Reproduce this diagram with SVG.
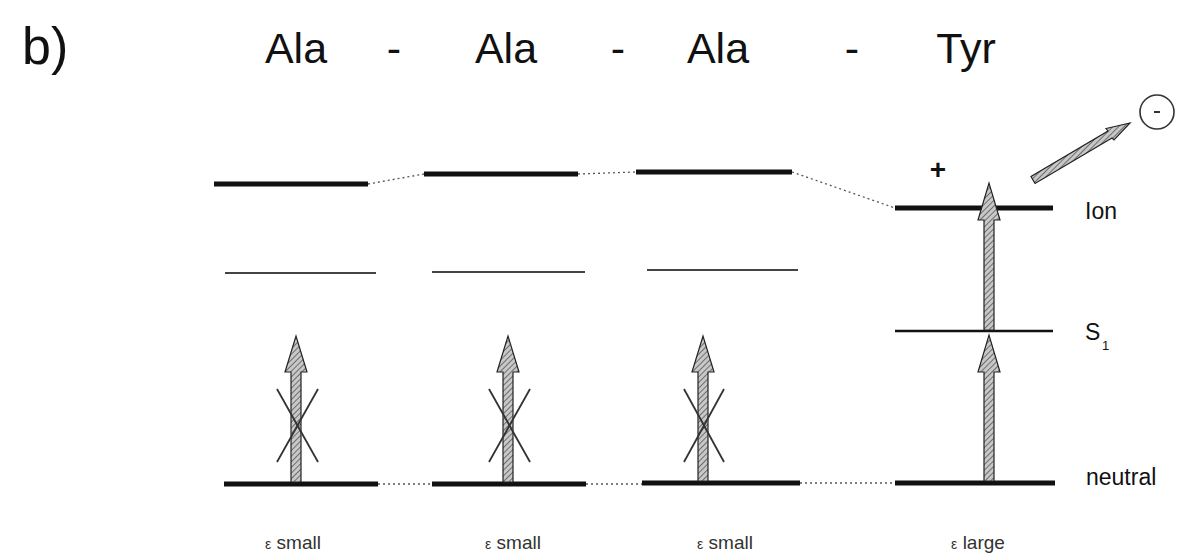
<svg xmlns="http://www.w3.org/2000/svg" width="1178" height="553" viewBox="0 0 1178 553">
<defs>
<pattern id="hatch" patternUnits="userSpaceOnUse" width="4" height="4" patternTransform="rotate(45)">
<rect width="4" height="4" fill="#c8c8c8"/>
<line x1="0" y1="0" x2="0" y2="4" stroke="#555" stroke-width="1.6"/>
</pattern>
</defs>
<style>
.t{font-family:"Liberation Sans",Arial,sans-serif;fill:#111}
.title{font-size:43px;text-anchor:middle}
.lab{font-size:23px}
.eps{font-size:19px;text-anchor:middle;fill:#333}
.thick{stroke:#111;stroke-width:5;stroke-linecap:butt}
.thin{stroke:#444;stroke-width:2}
.s1{stroke:#111;stroke-width:2.5}
.dot{stroke:#555;stroke-width:1.3;stroke-dasharray:2 3;fill:none}
.arrow{fill:url(#hatch);stroke:#222;stroke-width:1.2}
.cross{stroke:#333;stroke-width:1.8}
</style>
<rect width="1178" height="553" fill="#fff"/>
<g id="title">
<text class="t" x="22" y="64" font-size="52">b)</text>
<text class="t title" x="296" y="63">Ala</text>
<text class="t title" x="394" y="63">-</text>
<text class="t title" x="506" y="63">Ala</text>
<text class="t title" x="618" y="63">-</text>
<text class="t title" x="718" y="63">Ala</text>
<text class="t title" x="852" y="63">-</text>
<text class="t title" x="966" y="63">Tyr</text>
</g>
<g id="connectors">
<line class="dot" x1="368" y1="184" x2="424" y2="174"/>
<line class="dot" x1="578" y1="174" x2="636" y2="172"/>
<line class="dot" x1="792" y1="172" x2="895" y2="208"/>
<line class="dot" x1="378" y1="484" x2="432" y2="484"/>
<line class="dot" x1="586" y1="484" x2="642" y2="484"/>
<line class="dot" x1="800" y1="483" x2="895" y2="483"/>
</g>
<g id="ala1">
<line class="thick" x1="214" y1="184" x2="368" y2="184"/>
<line class="thin" x1="225" y1="273" x2="376" y2="273"/>
<line class="thick" x1="224" y1="484" x2="378" y2="484"/>
<path class="arrow" d="M291,482 V372 H285 L296,336 L307,372 H301 V482 Z"/>
<line class="cross" x1="277" y1="389" x2="318" y2="462"/>
<line class="cross" x1="318" y1="389" x2="277" y2="462"/>
<text class="t eps" x="293" y="549"><tspan font-size="14">ε</tspan> small</text>
</g>
<g id="ala2">
<line class="thick" x1="424" y1="174" x2="578" y2="174"/>
<line class="thin" x1="432" y1="272" x2="585" y2="272"/>
<line class="thick" x1="432" y1="484" x2="586" y2="484"/>
<path class="arrow" d="M503,482 V372 H497 L508,336 L519,372 H513 V482 Z"/>
<line class="cross" x1="489" y1="389" x2="530" y2="462"/>
<line class="cross" x1="530" y1="389" x2="489" y2="462"/>
<text class="t eps" x="513" y="549"><tspan font-size="14">ε</tspan> small</text>
</g>
<g id="ala3">
<line class="thick" x1="636" y1="172" x2="792" y2="172"/>
<line class="thin" x1="647" y1="270" x2="798" y2="270"/>
<line class="thick" x1="642" y1="483" x2="800" y2="483"/>
<path class="arrow" d="M698,481 V372 H692 L703,336 L714,372 H708 V481 Z"/>
<line class="cross" x1="684" y1="389" x2="724" y2="462"/>
<line class="cross" x1="724" y1="389" x2="684" y2="462"/>
<text class="t eps" x="725" y="549"><tspan font-size="14">ε</tspan> small</text>
</g>
<g id="tyr">
<line class="thick" x1="895" y1="208" x2="1053" y2="208"/>
<line class="s1" x1="895" y1="331" x2="1053" y2="331"/>
<line class="thick" x1="895" y1="483" x2="1055" y2="483"/>
<path class="arrow" d="M984,481 V372 H978 L989,335 L1000,372 H994 V481 Z"/>
<path class="arrow" d="M984,330 V220 H978 L989,183 L1000,220 H994 V330 Z"/>
<text class="t" x="938" y="179" font-size="28" text-anchor="middle" font-weight="bold">+</text>
<text class="t eps" x="978" y="549"><tspan font-size="14">ε</tspan> large</text>
</g>
<g id="electron">
<path class="arrow" d="M1035,183.5 L1031,176.5 L1108,131 L1106,128.5 L1130,123 L1114,140 L1112,138 Z"/>
<circle cx="1157" cy="112" r="17" fill="none" stroke="#333" stroke-width="1.6"/>
<line x1="1154" y1="112" x2="1160" y2="112" stroke="#333" stroke-width="2"/>
</g>
<g id="labels">
<text class="t lab" x="1085" y="219">Ion</text>
<text class="t lab" x="1085" y="340">S</text>
<text class="t" x="1102" y="350" font-size="13">1</text>
<text class="t lab" x="1086" y="485">neutral</text>
</g>
</svg>
